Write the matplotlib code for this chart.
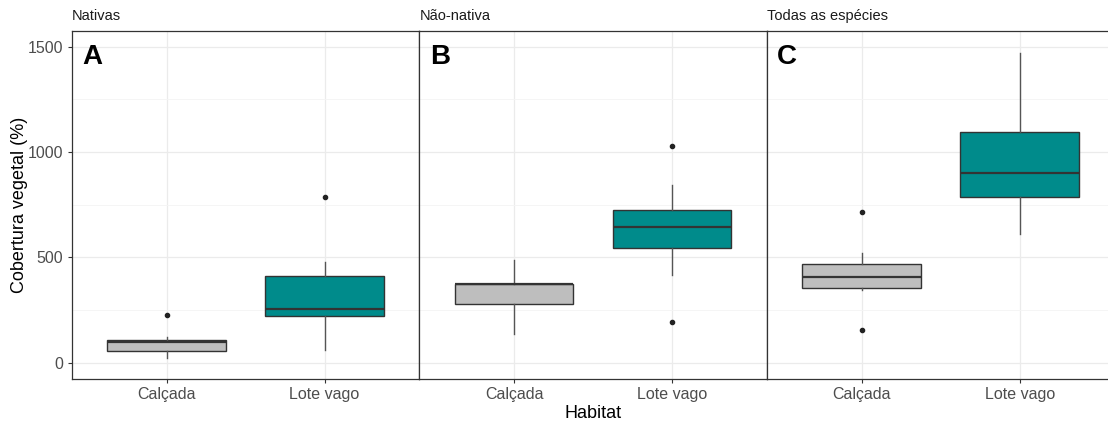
import matplotlib.pyplot as plt

# Vegetation cover by habitat, three species groups
groups = ['Nativas', 'Não-nativa', 'Todas as espécies']
letters = ['A', 'B', 'C']
habitats = ['Calçada', 'Lote vago']

# box statistics per group: [Calçada, Lote vago]
q1 = [[55, 220], [277, 543], [354, 785]]
med = [[100, 256], [375, 645], [408, 900]]
q3 = [[108, 413], [375, 723], [470, 1095]]
whislo = [[24, 59], [135, 416], [346, 609]]
whishi = [[120, 478], [487, 842], [522, 1468]]
fliers = [[[225], [788]], [[], [1030, 192]], [[715, 155], []]]

fill = ['#bebebe', '#008b8b']
edge = '#333333'

plt.rcParams['font.family'] = ['Liberation Sans', 'DejaVu Sans']

fig = plt.figure(figsize=(11.08, 4.23), dpi=100)
left, width = 71.7 / 1108, 347.6 / 1108
bottom, height = 44 / 423, 348.3 / 423

for g in range(3):
    ax = fig.add_axes([left + g * width, bottom, width, height])
    stats = []
    for h in range(2):
        stats.append(dict(med=med[g][h], q1=q1[g][h], q3=q3[g][h],
                          whislo=whislo[g][h], whishi=whishi[g][h],
                          fliers=fliers[g][h]))
    bp = ax.bxp(stats, positions=[1, 2], widths=0.75, patch_artist=True,
                showcaps=False,
                boxprops=dict(edgecolor=edge, linewidth=1.0),
                medianprops=dict(color=edge, linewidth=1.6),
                whiskerprops=dict(color='#555555', linewidth=1.0),
                flierprops=dict(marker='o', markersize=3,
                                markerfacecolor='#222222',
                                markeredgecolor='#222222'))
    for patch, c in zip(bp['boxes'], fill):
        patch.set_facecolor(c)
    for art in bp['boxes'] + bp['medians'] + bp['whiskers'] + bp['fliers']:
        art.set_zorder(3)

    ax.set_xlim(0.4, 2.6)
    ax.set_ylim(-77, 1576)
    ax.set_xticks([1, 2])
    ax.set_xticklabels(habitats)
    ax.set_yticks([0, 500, 1000, 1500])
    ax.set_yticks([250, 750, 1250], minor=True)
    ax.grid(True, which='major', color='#ebebeb', linewidth=0.9, zorder=0)
    ax.grid(True, which='minor', axis='y', color='#f4f4f4', linewidth=0.6, zorder=0)
    ax.set_axisbelow(True)
    ax.tick_params(axis='both', which='major', length=3, color='#333333',
                   labelsize=11.5, labelcolor='#4d4d4d', pad=3)
    ax.tick_params(axis='y', which='minor', length=0)
    if g == 0:
        ax.set_ylabel('Cobertura vegetal (%)', fontsize=13, color='black', labelpad=0)
    else:
        ax.tick_params(axis='y', which='major', length=0, labelleft=False)
    if g == 1:
        ax.set_xlabel('Habitat', fontsize=13, color='black', labelpad=2)
    for s in ax.spines.values():
        s.set_color(edge)
        s.set_linewidth(0.9)
    if g == 2:
        ax.spines['right'].set_visible(False)

    ax.text(0, 1.022, groups[g], transform=ax.transAxes, fontsize=10.5,
            ha='left', va='bottom', color='#1a1a1a')
    ax.text(0.03, 0.962, letters[g], transform=ax.transAxes, fontsize=20,
            fontweight='bold', ha='left', va='top', color='black')

fig.savefig('out.png', dpi=100)
